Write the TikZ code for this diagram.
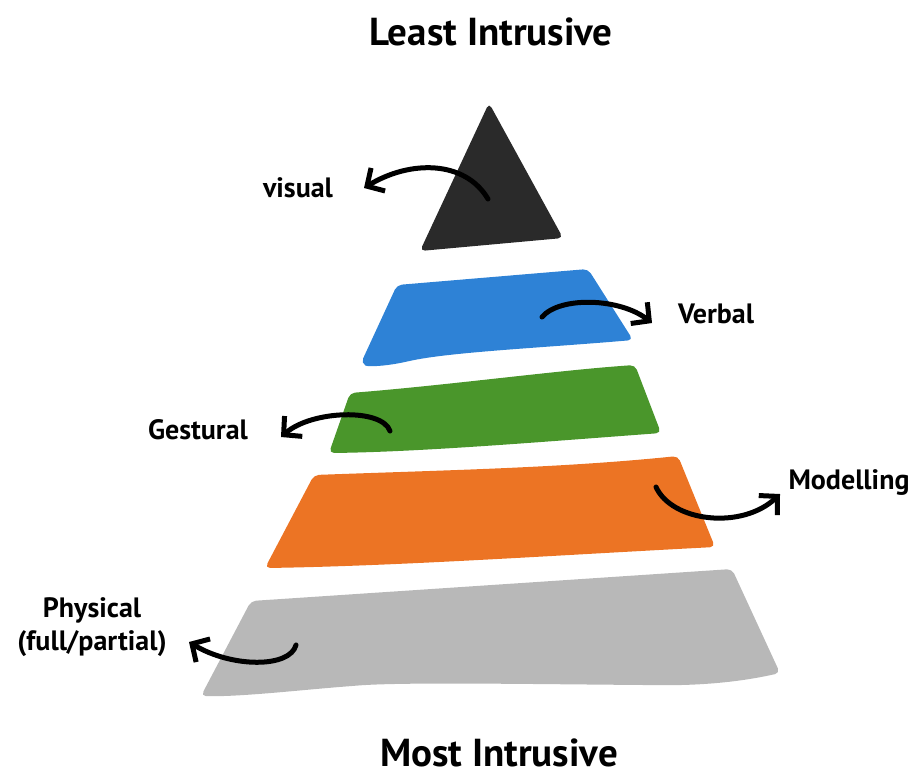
\documentclass[tikz,border=0pt]{standalone}
\usepackage{fontspec}
\setmainfont{PT Sans}
\usetikzlibrary{arrows.meta}
\definecolor{cTri}{HTML}{2A2A2A}
\definecolor{cBlue}{HTML}{2E82D6}
\definecolor{cGreen}{HTML}{4A962B}
\definecolor{cOrange}{HTML}{EC7424}
\definecolor{cGray}{HTML}{B8B8B8}
\tikzset{
  layer/.style={rounded corners=5pt, draw=none},
  title/.style={font=\bfseries\fontsize{39}{44}\selectfont, inner sep=0pt},
  lbl/.style={font=\bfseries\fontsize{28}{33}\selectfont, inner sep=0pt, align=center},
  curvearrow/.style={line width=5pt, line cap=round, -{Straight Barb[length=13pt,width=27pt,line width=5pt]}}
}
\begin{document}
\begin{tikzpicture}[x=1pt,y=-1pt]
\useasboundingbox (0,0) rectangle (920,780);
% layers
\fill[cTri, layer] (489,103) -- (563,238) -- (420,251) -- cycle;
\fill[cBlue, layer] (397,285) -- (588,269) -- (633,340)
   .. controls (540,348) and (450,352) .. (405,362)
   .. controls (385,366) and (368,367) .. (361,363) -- cycle;
\fill[cGreen, layer] (350,393) .. controls (450,385) and (560,370) .. (635,365) -- (661,433)
   .. controls (540,442) and (420,452) .. (329,453) -- cycle;
\fill[cOrange, layer] (314,475) .. controls (450,470) and (560,468) .. (678,456) -- (715,547)
   .. controls (560,555) and (400,566) .. (265,568) -- cycle;
\fill[cGray, layer] (251,601) -- (732,569) -- (780,673)
   .. controls (740,682) and (700,686) .. (645,685)
   .. controls (520,684) and (400,682) .. (352,686)
   .. controls (300,690) and (240,697) .. (201,696) -- cycle;
% titles
\node[title] (least) at (491,32) {Least Intrusive};
\node[title] (most) at (499,753) {Most Intrusive};
% labels
\node[lbl] (visual) at (298,188) {visual};
\node[lbl] (verbal) at (716,314) {Verbal};
\node[lbl] (gestural) at (198,430) {Gestural};
\node[lbl] (modelling) at (849,483) {Modelling};
\node[lbl] (physical) at (92,627) {Physical\\(full/partial)};
% arrow endpoints
\coordinate (sVis) at (488,199);  \coordinate (eVis) at (364,188);
\coordinate (sVer) at (542,317);  \coordinate (eVer) at (652,323);
\coordinate (sGes) at (390,431);  \coordinate (eGes) at (281,437);
\coordinate (sMod) at (656,487);  \coordinate (eMod) at (780,494);
\coordinate (sPhy) at (296,645);  \coordinate (ePhy) at (189,642);
\draw[curvearrow] (sVis) .. controls (465,160) and (410,160) .. (eVis);
\draw[curvearrow] (sVer) .. controls (560,296) and (620,298) .. (eVer);
\draw[curvearrow] (sGes) .. controls (382,408) and (312,410) .. (eGes);
\draw[curvearrow] (sMod) .. controls (672,522) and (742,530) .. (eMod);
\draw[curvearrow] (sPhy) .. controls (290,668) and (232,668) .. (ePhy);
\end{tikzpicture}
\end{document}
